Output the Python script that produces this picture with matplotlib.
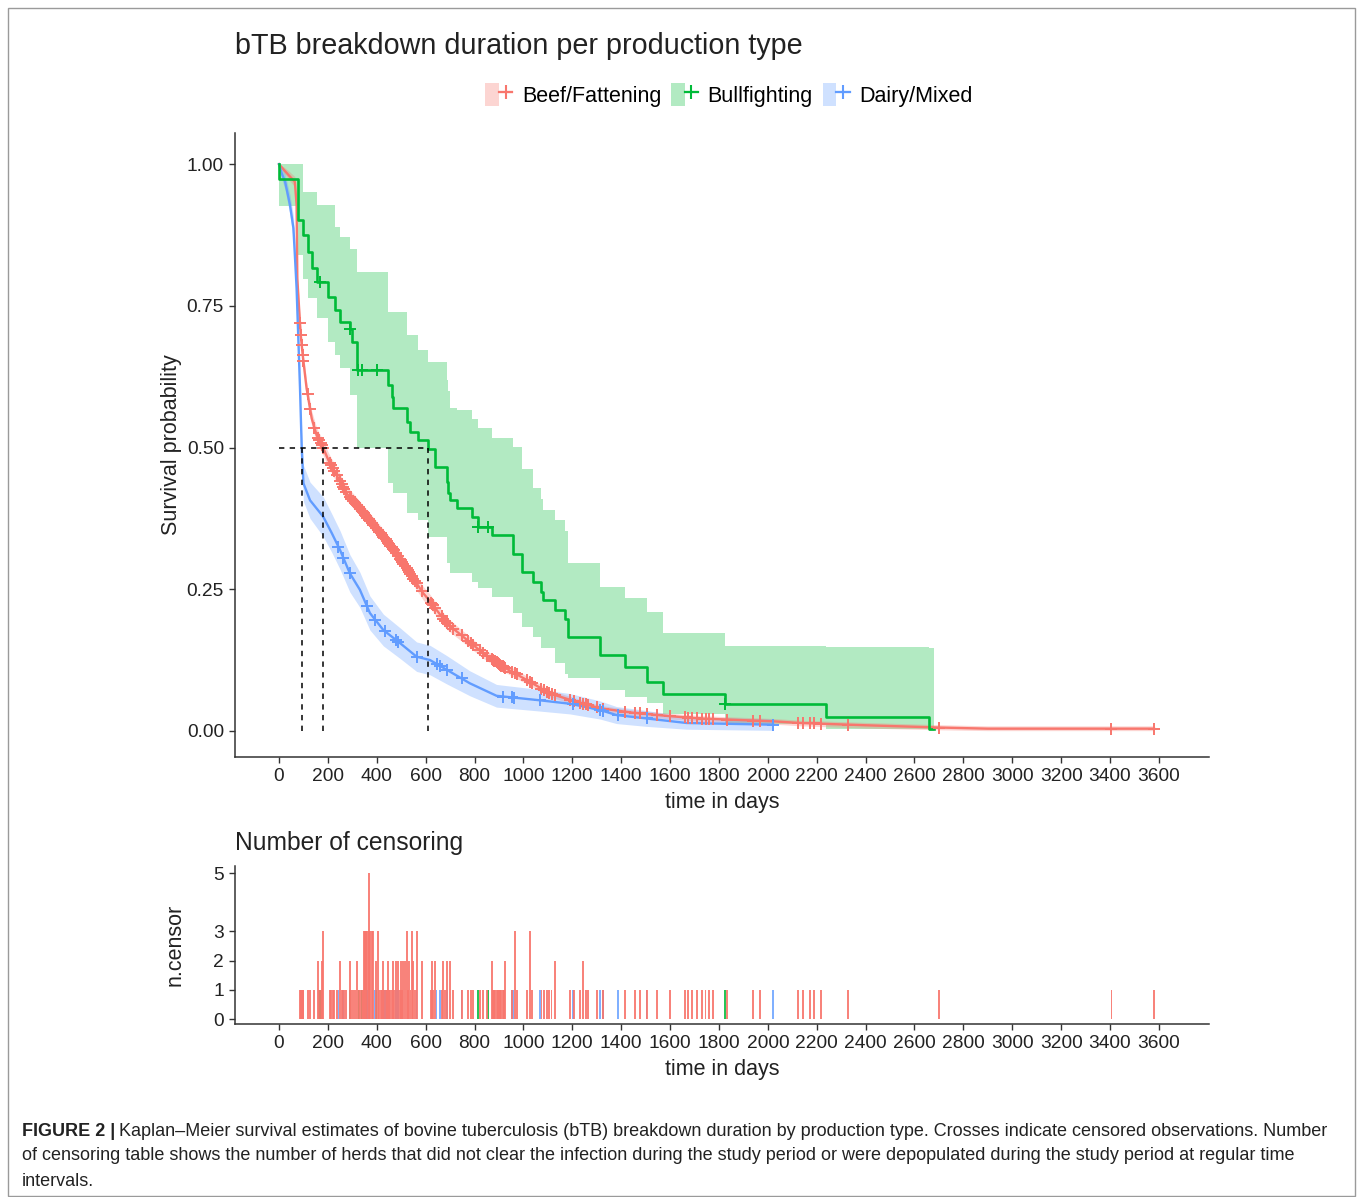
import matplotlib
matplotlib.use("Agg")
import matplotlib.pyplot as plt
import numpy as np
from matplotlib.patches import Patch, Rectangle
from matplotlib.lines import Line2D
from matplotlib.legend_handler import HandlerTuple

plt.rcParams["font.family"] = ["Liberation Sans", "DejaVu Sans"]

RED, GREEN, BLUE = "#F8766D", "#00BA38", "#619CFF"
groups = ["Beef/Fattening", "Bullfighting", "Dairy/Mixed"]

# ---- Kaplan-Meier estimates ----
red_t = [0, 20, 45, 65, 72, 75, 83, 89, 97, 113, 134, 154, 181, 202, 240, 277, 320,
         359, 400, 427, 481, 536, 590, 614, 686, 754, 836, 918, 1013, 1109, 1190, 1313,
         1450, 1600, 1722, 1900, 2022, 2131, 2400, 2700, 2900, 3580]
red_s = [1.0, 0.99, 0.978, 0.969, 0.928, 0.798, 0.740, 0.698, 0.663, 0.604, 0.551, 0.522,
         0.499, 0.478, 0.448, 0.419, 0.398, 0.378, 0.357, 0.343, 0.313, 0.278, 0.243, 0.231,
         0.190, 0.166, 0.137, 0.113, 0.090, 0.066, 0.055, 0.040, 0.032, 0.026, 0.022, 0.019,
         0.017, 0.014, 0.010, 0.006, 0.004, 0.004]
red_lo = [1.0, 0.985, 0.97, 0.96, 0.918, 0.786, 0.727, 0.685, 0.650, 0.591, 0.538, 0.509,
          0.486, 0.465, 0.435, 0.406, 0.385, 0.365, 0.344, 0.330, 0.300, 0.266, 0.231, 0.219,
          0.179, 0.156, 0.128, 0.105, 0.083, 0.060, 0.049, 0.035, 0.027, 0.021, 0.017, 0.014,
          0.012, 0.009, 0.005, 0.002, 0.0005, 0.0005]
red_hi = [1.0, 0.995, 0.986, 0.978, 0.938, 0.810, 0.753, 0.711, 0.676, 0.617, 0.564, 0.535,
          0.512, 0.491, 0.461, 0.432, 0.411, 0.391, 0.370, 0.356, 0.326, 0.290, 0.255, 0.243,
          0.201, 0.176, 0.146, 0.121, 0.097, 0.072, 0.061, 0.045, 0.037, 0.031, 0.027, 0.024,
          0.022, 0.019, 0.015, 0.011, 0.009, 0.009]

green_t = [0, 1, 79, 100, 120, 134, 154, 202, 229, 250, 290, 297, 318, 320, 447, 461, 468,
           522, 536, 570, 611, 638, 686, 693, 700, 727, 788, 815, 870, 958, 993, 1040, 1074,
           1081, 1129, 1170, 1184, 1313, 1416, 1504, 1572, 1825, 2240, 2660, 2680]
green_s = [1.0, 0.973, 0.901, 0.875, 0.845, 0.816, 0.792, 0.766, 0.742, 0.722, 0.710, 0.687,
           0.663, 0.637, 0.610, 0.590, 0.569, 0.545, 0.528, 0.514, 0.498, 0.465, 0.44, 0.42,
           0.407, 0.393, 0.378, 0.360, 0.346, 0.313, 0.281, 0.263, 0.246, 0.231, 0.213, 0.197,
           0.166, 0.134, 0.113, 0.087, 0.066, 0.047, 0.025, 0.003, 0.003]
green_hi = [1.0, 1.0, 1.0, 0.951, 0.951, 0.951, 0.928, 0.928, 0.889, 0.872, 0.851, 0.851,
            0.810, 0.810, 0.739, 0.739, 0.739, 0.698, 0.698, 0.672, 0.651, 0.651, 0.619, 0.60,
            0.569, 0.566, 0.551, 0.534, 0.516, 0.501, 0.463, 0.428, 0.410, 0.390, 0.372, 0.352,
            0.296, 0.254, 0.234, 0.210, 0.172, 0.150, 0.148, 0.146, 0.146]
green_lo = [0.927, 0.927, 0.84, 0.798, 0.763, 0.763, 0.728, 0.687, 0.663, 0.640, 0.593, 0.593,
            0.531, 0.50, 0.437, 0.437, 0.419, 0.384, 0.384, 0.372, 0.343, 0.343, 0.296, 0.296,
            0.278, 0.278, 0.263, 0.252, 0.237, 0.208, 0.184, 0.166, 0.146, 0.146, 0.12, 0.10,
            0.093, 0.072, 0.06, 0.049, 0.03, 0.012, 0.004, 0.0, 0.0]

blue_t = [0, 10, 25, 45, 59, 65, 72, 79, 86, 93, 100, 127, 181, 216, 250, 290, 331, 372,
          427, 495, 563, 618, 686, 781, 890, 1068, 1190, 1313, 1381, 1504, 1668, 2022]
blue_s = [1.0, 0.985, 0.969, 0.928, 0.887, 0.839, 0.781, 0.693, 0.604, 0.499, 0.437, 0.407,
          0.378, 0.349, 0.319, 0.278, 0.249, 0.208, 0.178, 0.155, 0.131, 0.125, 0.108, 0.084,
          0.062, 0.054, 0.048, 0.037, 0.028, 0.022, 0.014, 0.011]
blue_lo = [1.0, 0.975, 0.955, 0.91, 0.865, 0.815, 0.755, 0.665, 0.575, 0.47, 0.405, 0.375,
           0.343, 0.315, 0.285, 0.245, 0.218, 0.178, 0.150, 0.128, 0.105, 0.099, 0.083, 0.062,
           0.042, 0.035, 0.030, 0.021, 0.013, 0.008, 0.003, 0.001]
blue_hi = [1.0, 0.995, 0.983, 0.946, 0.909, 0.863, 0.807, 0.721, 0.633, 0.528, 0.469, 0.439,
           0.413, 0.383, 0.353, 0.311, 0.280, 0.238, 0.206, 0.182, 0.157, 0.151, 0.133, 0.106,
           0.082, 0.073, 0.066, 0.053, 0.043, 0.036, 0.025, 0.021]

# ---- censoring times (days) and number censored ----
red_cens_t = [86, 89, 93, 97, 100, 117, 127, 145, 160, 165, 170, 175, 181, 209, 214, 220, 226,
              236, 250, 256, 262, 268, 274, 290, 296, 303, 311, 320, 326, 332, 338, 342, 347,
              352, 357, 362, 367, 370, 374, 379, 386, 397, 406, 411, 416, 421, 427, 431, 436,
              441, 447, 451, 456, 461, 468, 471, 478, 488, 495, 499, 505, 509, 515, 522, 528,
              533, 538, 543, 550, 556, 563, 584, 622, 625, 630, 638, 665, 672, 680, 686, 699,
              713, 747, 775, 785, 795, 822, 836, 850, 870, 875, 880, 885, 890, 895, 900, 905,
              910, 915, 920, 925, 952, 965, 972, 1013, 1027, 1034, 1074, 1085, 1095, 1105,
              1115, 1129, 1190, 1207, 1231, 1245, 1256, 1265, 1300, 1327, 1416, 1456, 1477,
              1504, 1545, 1600, 1661, 1675, 1688, 1709, 1730, 1745, 1760, 1775, 1833, 1940,
              1969, 2124, 2143, 2172, 2187, 2216, 2328, 2701, 3406, 3580]
red_cens_n = [1, 1, 1, 1, 1, 1, 1, 1, 2, 1, 1, 2, 3, 1, 1, 1, 1,
              1, 2, 1, 1, 1, 1, 2, 1, 1, 1, 2, 1, 1, 1, 1, 3,
              3, 3, 3, 3, 5, 3, 3, 3, 2, 3, 1, 1, 1, 2, 1, 1,
              1, 2, 1, 1, 1, 2, 1, 2, 2, 1, 2, 1, 2, 2, 3, 1,
              2, 1, 3, 2, 1, 3, 2, 1, 2, 1, 2, 1, 2, 1, 2, 2,
              1, 1, 1, 1, 1, 1, 1, 1, 2, 1, 1, 1, 1, 1, 1, 1,
              1, 1, 1, 2, 1, 3, 1, 1, 3, 1, 1, 1, 1, 1,
              1, 2, 1, 1, 1, 2, 1, 1, 1, 1, 1, 1, 1,
              1, 1, 1, 1, 1, 1, 1, 1, 1, 1, 1, 1, 1,
              1, 1, 1, 1, 1, 1, 1, 1, 1, 1]
green_cens_t = [168, 290, 325, 338, 399, 815, 856, 1825]
green_cens_n = [1, 1, 1, 1, 1, 1, 1, 1]
blue_cens_t = [243, 263, 290, 359, 393, 434, 478, 488, 563, 645, 659, 686, 747, 918, 952,
               960, 1068, 1204, 1313, 1327, 1388, 1504, 2022]
blue_cens_n = [1] * len(blue_cens_t)

xticks = list(range(0, 3601, 200))
yticks_main = [0.0, 0.25, 0.5, 0.75, 1.0]
yticks_cens = [0, 1, 2, 3, 5]

caption_bold = "FIGURE 2 |"
caption_lines = [
    "Kaplan\u2013Meier survival estimates of bovine tuberculosis (bTB) breakdown duration by "
    "production type. Crosses indicate censored observations. Number",
    "of censoring table shows the number of herds that did not clear the infection during the "
    "study period or were depopulated during the study period at regular time",
    "intervals.",
]

# ---- layout helpers (pixel -> figure fraction) ----
W, H = 1360, 1197
fig = plt.figure(figsize=(W / 100, H / 100), dpi=100)


def fx(px):
    return px / W


def fy(py):
    return 1 - py / H


INK = "#222222"
AX_COL = "#333333"


def style_axes(a):
    for s in ("top", "right"):
        a.spines[s].set_visible(False)
    for s in ("left", "bottom"):
        a.spines[s].set_color(AX_COL)
        a.spines[s].set_linewidth(1.1)
    a.tick_params(length=4, width=1.0, color=AX_COL, labelsize=13.8,
                  labelcolor=INK, pad=4)


# frame around the figure panel
fig.add_artist(Rectangle((fx(8), fy(1196)), fx(1355) - fx(8), fy(8) - fy(1196),
                         transform=fig.transFigure, fill=False,
                         edgecolor="#9a9a9a", linewidth=1.0))

# ---- main survival panel ----
ax = fig.add_axes([fx(235), fy(757), fx(1209) - fx(235), fy(133) - fy(757)])
style_axes(ax)

ax.fill_between(green_t, green_lo, green_hi, step="post", color=GREEN, alpha=0.3,
                linewidth=0)
ax.fill_between(red_t, red_lo, red_hi, color=RED, alpha=0.3, linewidth=0)
ax.fill_between(blue_t, blue_lo, blue_hi, color=BLUE, alpha=0.3, linewidth=0)

ax.plot(red_t, red_s, color=RED, lw=1.7)
ax.plot(blue_t, blue_s, color=BLUE, lw=1.7)
ax.plot(green_t, green_s, color=GREEN, lw=1.9, drawstyle="steps-post")

# censoring crosses
red_cy = np.interp(red_cens_t, red_t, red_s)
blue_cy = np.interp(blue_cens_t, blue_t, blue_s)
gidx = np.searchsorted(green_t, green_cens_t, side="right") - 1
green_cy = np.array(green_s)[gidx]
mk = dict(linestyle="none", marker="+", markersize=9, markeredgewidth=1.4)
ax.plot(red_cens_t, red_cy, color=RED, **mk)
ax.plot(blue_cens_t, blue_cy, color=BLUE, **mk)
ax.plot(green_cens_t, green_cy, color=GREEN, **mk)

# median survival lines
medians = []
for tt, ss in ((blue_t, blue_s), (red_t, red_s), (green_t, green_s)):
    i = int(np.argmax(np.array(ss) <= 0.5))
    medians.append(tt[i])
dash = dict(color="black", lw=1.1, linestyle=(0, (3.5, 3.5)))
ax.plot([0, max(medians)], [0.5, 0.5], **dash)
for m in medians:
    ax.plot([m, m], [0, 0.5], **dash)

ax.set_xlim(-180, 3805)
ax.set_ylim(-0.046, 1.055)
ax.set_xticks(xticks)
ax.set_yticks(yticks_main)
ax.set_yticklabels([f"{v:.2f}" for v in yticks_main])
ax.set_xlabel("time in days", fontsize=15.5, color=INK, labelpad=5)
ax.set_ylabel("Survival probability", fontsize=15.5, color=INK, labelpad=3)

fig.text(fx(235), fy(46), "bTB breakdown duration per production type",
         fontsize=20.7, color=INK, ha="left", va="center")

handles = [(Patch(facecolor=c, alpha=0.3, edgecolor="none"),
            Line2D([], [], color=c, lw=1.6, marker="+", markersize=10, markeredgewidth=1.5))
           for c in (RED, GREEN, BLUE)]
fig.legend(handles, groups, handler_map={tuple: HandlerTuple(ndivide=None)},
           loc="center", bbox_to_anchor=(fx(729), fy(95)), ncol=3, frameon=False,
           fontsize=15.5, handlelength=1.25, handleheight=1.3, handletextpad=0.45,
           columnspacing=0.45, borderpad=0)

# ---- number of censoring panel ----
ax2 = fig.add_axes([fx(235), fy(1024), fx(1209) - fx(235), fy(866) - fy(1024)])
style_axes(ax2)
ax2.bar(blue_cens_t, blue_cens_n, width=7, color=BLUE, alpha=0.8, linewidth=0, zorder=2)
ax2.bar(green_cens_t, green_cens_n, width=7, color=GREEN, alpha=0.85, linewidth=0, zorder=2)
ax2.bar(red_cens_t, red_cens_n, width=8, color=RED, alpha=0.9, linewidth=0, zorder=3)
ax2.set_xlim(-180, 3805)
ax2.set_ylim(-0.17, 5.24)
ax2.set_xticks(xticks)
ax2.set_yticks(yticks_cens)
ax2.set_xlabel("time in days", fontsize=15.5, color=INK, labelpad=5)
ax2.set_ylabel("n.censor", fontsize=15.5, color=INK, labelpad=20)
fig.text(fx(235), fy(843), "Number of censoring", fontsize=17.7, color=INK,
         ha="left", va="center")

# ---- caption ----
cap_fs = 13.0
tb = fig.text(fx(22), fy(1131), caption_bold, fontsize=cap_fs, fontweight="bold",
              color=INK, ha="left", va="center")
fig.canvas.draw()
bb = tb.get_window_extent(fig.canvas.get_renderer())
fig.text(bb.x1 / W + fx(4), fy(1131), caption_lines[0], fontsize=cap_fs, color=INK,
         ha="left", va="center")
fig.text(fx(22), fy(1156), caption_lines[1], fontsize=cap_fs, color=INK,
         ha="left", va="center")
fig.text(fx(22), fy(1181), caption_lines[2], fontsize=cap_fs, color=INK,
         ha="left", va="center")

fig.savefig("out.png", dpi=100)
